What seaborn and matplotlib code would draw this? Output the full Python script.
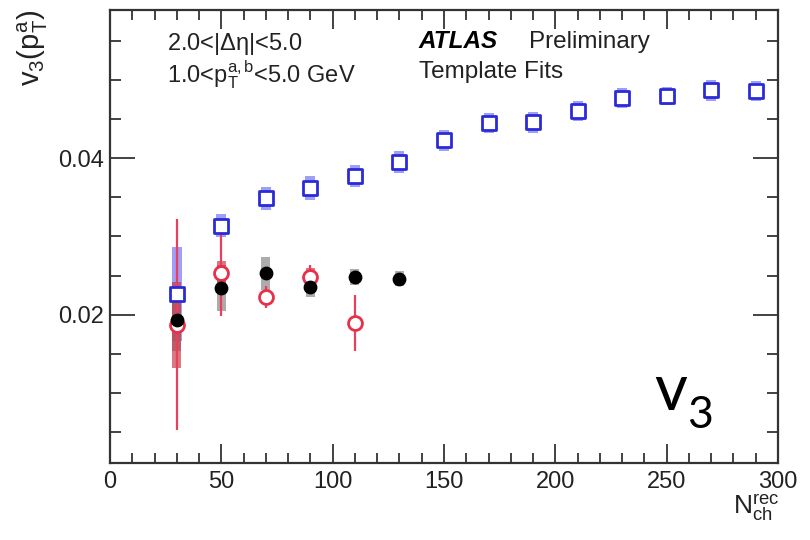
import numpy as np
import pandas as pd
import matplotlib
matplotlib.use("Agg")
import matplotlib.pyplot as plt
import seaborn as sns
from matplotlib.ticker import MultipleLocator

# values
blue_nch = [30, 50, 70, 90, 110, 130, 150, 170, 190, 210, 230, 250, 270, 290]
blue_v3 = [0.0226, 0.0314, 0.0349, 0.0362, 0.0378, 0.0395, 0.0423, 0.0445,
           0.0446, 0.0461, 0.0477, 0.0480, 0.0487, 0.0486]
blue_sys = [0.0060, 0.0015, 0.0015, 0.0015, 0.0014, 0.0014, 0.0013, 0.0013,
            0.0013, 0.0013, 0.0013, 0.0012, 0.0013, 0.0013]

black_nch = [30, 50, 70, 90, 110, 130]
black_v3 = [0.0193, 0.0234, 0.0253, 0.0235, 0.0248, 0.0246]
black_sys = [0.0040, 0.0030, 0.0021, 0.0013, 0.0010, 0.0010]

red_nch = [30, 50, 70, 90, 110]
red_v3 = [0.0187, 0.0253, 0.0222, 0.0248, 0.0189]
red_stat = [0.0135, 0.0055, 0.0014, 0.0015, 0.0036]
red_sys = [0.0055, 0.0015, 0.0008, 0.0012, 0.0008]

sns.set_style("ticks")
plt.rcParams['font.family'] = ['Liberation Sans', 'DejaVu Sans']
plt.rcParams['mathtext.fontset'] = 'custom'
plt.rcParams['mathtext.rm'] = 'Liberation Sans'
plt.rcParams['mathtext.it'] = 'Liberation Sans'

fig = plt.figure(figsize=(8.1, 5.4), dpi=100)
ax = fig.add_axes([0.1358, 0.1426, 0.8247, 0.8389])

blue = pd.DataFrame({'nch': blue_nch, 'v3': blue_v3, 'sys': blue_sys})
black = pd.DataFrame({'nch': black_nch, 'v3': black_v3, 'sys': black_sys})
red = pd.DataFrame({'nch': red_nch, 'v3': red_v3, 'stat': red_stat, 'sys': red_sys})

# systematic boxes
ax.bar(blue['nch'], 2 * blue['sys'], bottom=blue['v3'] - blue['sys'], width=4.5,
       color='#7f7ff5', alpha=0.75, linewidth=0, zorder=1)
ax.bar(black['nch'], 2 * black['sys'], bottom=black['v3'] - black['sys'], width=4.0,
       color='#909090', alpha=0.75, linewidth=0, zorder=1)
ax.bar(red['nch'], 2 * red['sys'], bottom=red['v3'] - red['sys'], width=4.0,
       color='#c8303e', alpha=0.65, linewidth=0, zorder=1)

# statistical errors
ax.errorbar(red['nch'], red['v3'], yerr=red['stat'], fmt='none',
            ecolor='#e8405a', elinewidth=1.6, capsize=0, zorder=2)

# markers
sns.scatterplot(data=red, x='nch', y='v3', marker='o', s=100, color='white',
                edgecolor='#e8304a', linewidth=2.0, ax=ax, zorder=3)
sns.scatterplot(data=black, x='nch', y='v3', marker='o', s=80, color='black',
                edgecolor='black', linewidth=1, ax=ax, zorder=4)
sns.scatterplot(data=blue, x='nch', y='v3', marker='s', s=95, color='white',
                edgecolor='#2a2ad8', linewidth=2.0, ax=ax, zorder=5)

ax.set_xlim(0, 300)
ax.set_ylim(0.001, 0.059)
ax.xaxis.set_major_locator(MultipleLocator(50))
ax.xaxis.set_minor_locator(MultipleLocator(10))
ax.yaxis.set_major_locator(MultipleLocator(0.02))
ax.yaxis.set_minor_locator(MultipleLocator(0.005))
ax.tick_params(which='both', direction='in', top=True, right=True, labelsize=17,
               colors='#222222', width=1.2)
ax.tick_params(axis='y', which='major', length=18, pad=4)
ax.tick_params(axis='y', which='minor', length=8)
ax.tick_params(axis='x', which='major', length=14, pad=6)
ax.tick_params(axis='x', which='minor', length=7)
ax.yaxis.set_major_formatter(matplotlib.ticker.FuncFormatter(lambda v, p: f"{v:.2f}"))
for sp in ax.spines.values():
    sp.set_linewidth(1.6)
    sp.set_color('#333333')

ax.set_xlabel('')
ax.set_ylabel('')
fig.text(0.040, 0.982, r'$\mathregular{v_{3}(p_{T}^{a})}$', rotation=90,
         ha='center', va='top', fontsize=21, color='#222222')
fig.text(0.962, 0.03, r'$\mathregular{N_{ch}^{rec}}$', ha='right', va='bottom',
         fontsize=19, color='#222222')

ax.text(0.085, 0.912, r'2.0<|$\mathregular{\Delta\eta}$|<5.0', transform=ax.transAxes,
        fontsize=17, color='#222222', va='baseline')
ax.text(0.085, 0.839, r'1.0<$\mathregular{p_{T}^{a,b}}$<5.0 GeV', transform=ax.transAxes,
        fontsize=17, color='#222222', va='baseline')
ax.text(0.462, 0.916, 'ATLAS', transform=ax.transAxes, fontsize=17.5,
        fontweight='bold', fontstyle='italic', color='black', va='baseline')
ax.text(0.627, 0.916, 'Preliminary', transform=ax.transAxes, fontsize=17.5,
        color='#222222', va='baseline')
ax.text(0.462, 0.850, 'Template Fits', transform=ax.transAxes, fontsize=17.5,
        color='#222222', va='baseline')

fig.text(0.808, 0.24, 'v', fontsize=46, family='Lato', color='black', va='baseline')
fig.text(0.848, 0.208, '3', fontsize=32, family='Lato', color='black', va='baseline')

fig.savefig('out.png', dpi=100)
